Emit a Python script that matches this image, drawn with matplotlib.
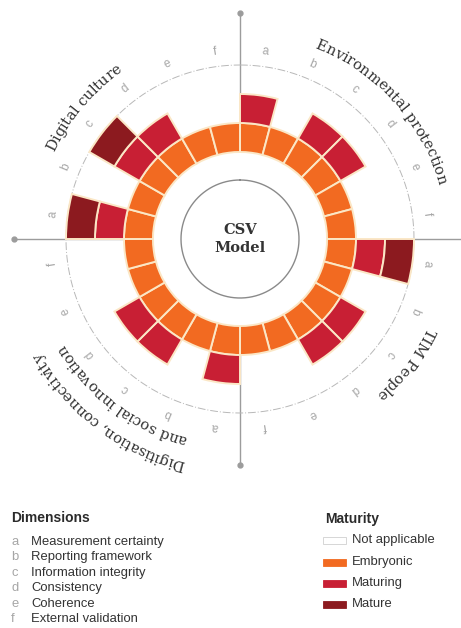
import numpy as np
import matplotlib
matplotlib.use("Agg")
import matplotlib.pyplot as plt
from matplotlib.patches import Rectangle
from matplotlib.font_manager import FontProperties, findfont, get_font

try:
    from matplotlib.ft2font import LoadFlags
    NOHINT = LoadFlags.NO_HINTING
except Exception:  # older matplotlib
    from matplotlib.ft2font import LOAD_NO_HINTING as NOHINT

# ---------------- data ----------------
quadrants = ["Environmental protection", "TIM People",
             "Digitisation, connectivity\nand social innovation", "Digital culture"]
dimension_codes = ["a", "b", "c", "d", "e", "f"]
dimension_names = ["Measurement certainty", "Reporting framework", "Information integrity",
                   "Consistency", "Coherence", "External validation"]
maturity_labels = ["Not applicable", "Embryonic", "Maturing", "Mature"]
# maturity level per dimension a..f (1 = Embryonic, 2 = Maturing, 3 = Mature)
env_protection = [2, 1, 2, 2, 1, 1]
tim_people = [3, 1, 2, 2, 1, 1]
digitisation = [2, 1, 2, 2, 1, 1]
digital_culture = [3, 1, 3, 2, 1, 1]
center_title = "CSV\nModel"

# ---------------- style ----------------
W, H, DPI = 461, 628, 100
CX, CY = 240, 239          # chart centre in pixels (from top-left)
R_AX = 230                 # axes radius in pixels (1 data unit = 1 px)
ring_edges = [87, 116, 145, 174]
level_colors = ["#ffffff", "#f26a21", "#c81f34", "#8c1a1f"]
gap_color = "#fbe7c6"
grey_line = "#9c9c9c"
text_dark = "#333333"
letter_grey = "#a6a6a6"

fig = plt.figure(figsize=(W / DPI, H / DPI), dpi=DPI)
fig.patch.set_facecolor("white")
ax = fig.add_axes([(CX - R_AX) / W, (H - CY - R_AX) / H, 2 * R_AX / W, 2 * R_AX / H],
                  projection="polar")
ax.set_theta_zero_location("N")
ax.set_theta_direction(-1)
ax.set_ylim(0, R_AX)
ax.set_axis_off()

series = [env_protection, tim_people, digitisation, digital_culture]
levels = np.array([v for s in series for v in s])
n = len(levels)
seg = 2 * np.pi / n
thetas = np.arange(n) * seg

# axis lines with end dots
for q in range(4):
    th = q * np.pi / 2
    ax.plot([th, th], [ring_edges[1], 226], color=grey_line, lw=1.0, zorder=1,
            clip_on=False)
    ax.plot([th], [226], marker="o", ms=3.5, color=grey_line, zorder=1, clip_on=False)

# dashed outer circle
tt = np.linspace(0, 2 * np.pi, 721)
ax.plot(tt, np.full_like(tt, ring_edges[3]), color="#b8b8b8", lw=0.7,
        ls=(0, (8, 2, 1, 2)), zorder=1)
# inner circle
ax.plot(tt, np.full_like(tt, 59), color="#8a8a8a", lw=1.0, zorder=2)

# bars: one ring per maturity level reached
for lvl in (1, 2, 3):
    mask = levels >= lvl
    ax.bar(thetas[mask], ring_edges[lvl] - ring_edges[lvl - 1], width=seg,
           bottom=ring_edges[lvl - 1], align="edge", color=level_colors[lvl],
           edgecolor=gap_color, linewidth=1.4, zorder=3)


def advances(s, fp):
    font = get_font(findfont(fp))
    font.set_size(fp.get_size_in_points(), DPI)
    out = []
    for ch in s:
        g = font.load_char(ord(ch), flags=NOHINT)
        out.append(g.linearHoriAdvance / 65536)
    return out


def curved_text(s, center_deg, r_base, fp, color):
    adv = advances(s, fp)
    total = sum(adv)
    start = np.radians(center_deg) - total / r_base / 2
    cum = 0.0
    for ch, a in zip(s, adv):
        th = start + (cum + a / 2) / r_base
        if ch != " ":
            ax.text(th, r_base, ch, rotation=-np.degrees(th), rotation_mode="anchor",
                    ha="center", va="baseline", fontproperties=fp, color=color,
                    zorder=5, clip_on=False)
        cum += a


serif = FontProperties(family="DejaVu Serif", size=10.5)
label_pos = [(48, [205]), (127, [206]), (217, [229, 204]), (310, [205])]
for name, (cdeg, radii) in zip(quadrants, label_pos):
    for line, rb in zip(name.split("\n"), radii):
        curved_text(line, cdeg, rb, serif, text_dark)

# dimension letters around the ring
for i in range(n):
    th = thetas[i] + seg / 2
    ax.text(th, 189, dimension_codes[i % 6], rotation=-np.degrees(th),
            rotation_mode="anchor", ha="center", va="center",
            fontsize=8.5, family="Liberation Sans", color=letter_grey, zorder=5)

# centre text
for line, y in zip(center_title.split("\n"), [230, 248]):
    fig.text(CX / W, 1 - y / H, line, ha="center", va="center", family="DejaVu Serif",
             fontweight="bold", fontsize=10.5, color=text_dark)

# ---------------- legends ----------------
def fx(x):
    return x / W


def fy(y):
    return 1 - y / H


fig.text(fx(11), fy(518), "Dimensions", ha="left", va="center", family="Liberation Sans",
         fontweight="bold", fontsize=10, color="#2b2b2b")
item_y = [542, 557, 573, 588, 604, 619]
for code, name, y in zip(dimension_codes, dimension_names, item_y):
    fig.text(fx(11), fy(y), code, ha="left", va="center", family="Liberation Sans",
             fontsize=9.4, color=letter_grey)
    fig.text(fx(31), fy(y), name, ha="left", va="center", family="Liberation Sans",
             fontsize=9.4, color=text_dark)

fig.text(fx(325), fy(519), "Maturity", ha="left", va="center", family="Liberation Sans",
         fontweight="bold", fontsize=10, color="#2b2b2b")
mat_y = [540, 562, 583, 604]
for i, (lab, y) in enumerate(zip(maturity_labels, mat_y)):
    fig.patches.append(Rectangle((fx(323), fy(y + 3.5)), 23 / W, 7 / H,
                                 transform=fig.transFigure, facecolor=level_colors[i],
                                 edgecolor="#d0d0d0" if i == 0 else level_colors[i],
                                 linewidth=0.6))
    fig.text(fx(352), fy(y), lab, ha="left", va="center", family="Liberation Sans",
             fontsize=9.4, color=text_dark)

fig.savefig("out.png", dpi=DPI, facecolor="white")
